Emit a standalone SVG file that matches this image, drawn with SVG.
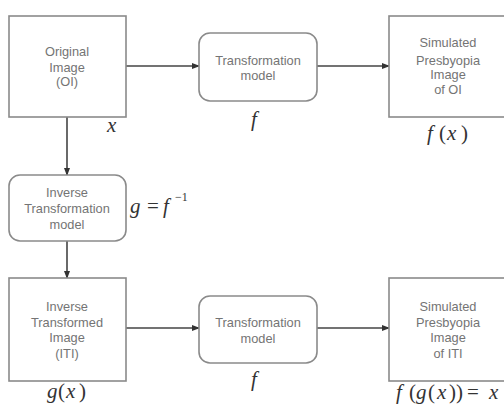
<svg xmlns="http://www.w3.org/2000/svg" width="504" height="407" viewBox="0 0 504 407">
<defs>
<marker id="ah" markerWidth="8" markerHeight="6" refX="7" refY="3" orient="auto" markerUnits="userSpaceOnUse">
<path d="M0,0 L8,3 L0,6 Z" fill="#333"/>
</marker>
<style>
.box{fill:#fff;stroke:#8a8a8a;stroke-width:1.6}
.lbl{font-family:"Liberation Sans",Arial,sans-serif;font-size:12.8px;fill:#747474;text-anchor:middle}
.m{font-family:"Liberation Serif","Times New Roman",serif;font-style:italic;font-size:21px;fill:#333}
.r{font-family:"Liberation Serif","Times New Roman",serif;font-style:normal;font-size:21px;fill:#333}
.sup{font-family:"Liberation Serif","Times New Roman",serif;font-size:12px;fill:#333}
.conn{stroke:#444;stroke-width:1.6;fill:none;marker-end:url(#ah)}
</style>
</defs>
<rect width="504" height="407" fill="#fff"/>
<g id="connectors">
<line class="conn" x1="126" y1="66" x2="199" y2="66"/>
<line class="conn" x1="317" y1="66" x2="389" y2="66"/>
<line class="conn" x1="67" y1="117" x2="67" y2="175"/>
<line class="conn" x1="67" y1="241" x2="67" y2="278"/>
<line class="conn" x1="126" y1="328" x2="199" y2="328"/>
<line class="conn" x1="317" y1="328" x2="389" y2="328"/>
</g>
<g id="original">
<rect class="box" x="9" y="16" width="117" height="101"/>
<text class="lbl" x="67" y="56">Original</text>
<text class="lbl" x="67" y="72">Image</text>
<text class="lbl" x="67" y="86">(OI)</text>
<text class="m" x="107" y="132">x</text>
</g>
<g id="transform1">
<rect class="box" x="199" y="33" width="118" height="68" rx="11"/>
<text class="lbl" x="258" y="65">Transformation</text>
<text class="lbl" x="258" y="80">model</text>
<text class="m" x="251" y="126">f</text>
</g>
<g id="simulated1">
<rect class="box" x="389" y="16" width="118" height="101"/>
<text class="lbl" x="448" y="47">Simulated</text>
<text class="lbl" x="448" y="65">Presbyopia</text>
<text class="lbl" x="448" y="79">Image</text>
<text class="lbl" x="448" y="94">of OI</text>
<text class="m" x="427" y="140">f</text>
<text class="r" x="439" y="140">(</text>
<text class="m" x="447" y="140">x</text>
<text class="r" x="461" y="140">)</text>
</g>
<g id="inverse">
<rect class="box" x="9" y="175" width="117" height="66" rx="11"/>
<text class="lbl" x="67" y="197">Inverse</text>
<text class="lbl" x="67" y="213">Transformation</text>
<text class="lbl" x="67" y="229">model</text>
<text class="m" x="130" y="213">g</text>
<text class="r" x="147" y="213">=</text>
<text class="m" x="163" y="213">f</text>
<text class="sup" x="175" y="201">−1</text>
</g>
<g id="inverseImage">
<rect class="box" x="9" y="278" width="117" height="103"/>
<text class="lbl" x="67" y="311">Inverse</text>
<text class="lbl" x="67" y="327">Transformed</text>
<text class="lbl" x="67" y="342">Image</text>
<text class="lbl" x="67" y="358">(ITI)</text>
<text class="m" x="47" y="398">g</text>
<text class="r" x="58" y="398">(</text>
<text class="m" x="66" y="398">x</text>
<text class="r" x="79" y="398">)</text>
</g>
<g id="transform2">
<rect class="box" x="199" y="296" width="118" height="67" rx="11"/>
<text class="lbl" x="258" y="327">Transformation</text>
<text class="lbl" x="258" y="343">model</text>
<text class="m" x="251" y="386">f</text>
</g>
<g id="simulated2">
<rect class="box" x="389" y="278" width="118" height="103"/>
<text class="lbl" x="448" y="311">Simulated</text>
<text class="lbl" x="448" y="327">Presbyopia</text>
<text class="lbl" x="448" y="342">Image</text>
<text class="lbl" x="448" y="358">of ITI</text>
<text class="m" x="396" y="399">f</text>
<text class="r" x="409" y="399">(</text>
<text class="m" x="416" y="399">g</text>
<text class="r" x="428" y="399">(</text>
<text class="m" x="437" y="399">x</text>
<text class="r" x="449" y="399">))</text>
<text class="r" x="467" y="399">=</text>
<text class="m" x="489" y="399">x</text>
</g>
</svg>
